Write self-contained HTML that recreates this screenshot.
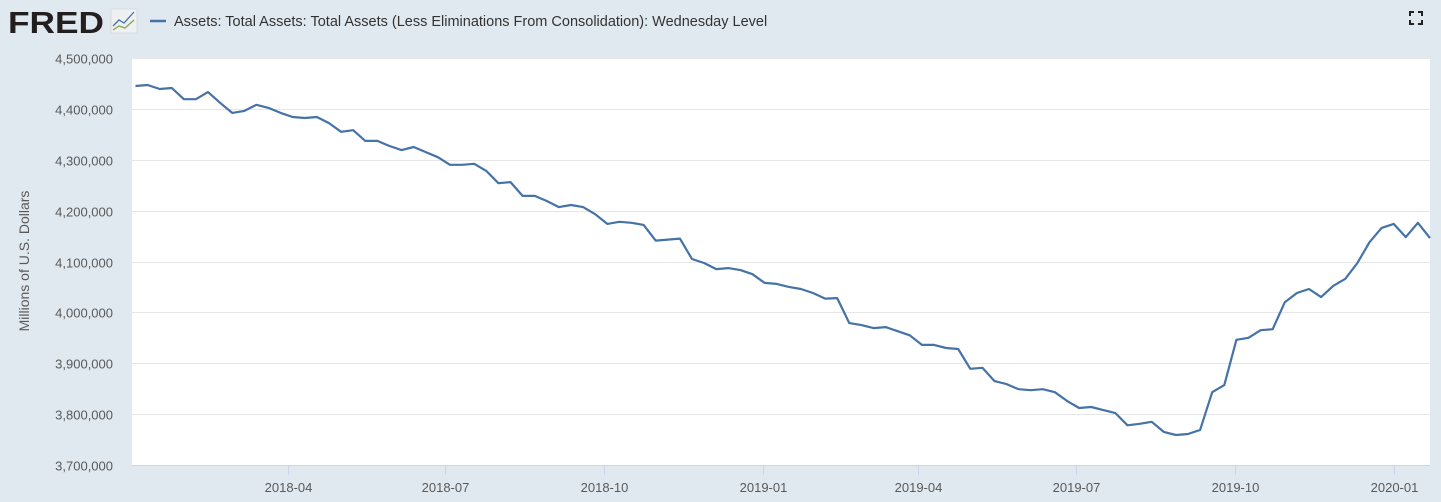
<!DOCTYPE html>
<html><head><meta charset="utf-8"><style>
body{margin:0;background:#e1e9f0;font-family:"Liberation Sans",sans-serif;}
#wrap{position:relative;width:1441px;height:502px;overflow:hidden;background:#e1e9f0}
</style></head><body>
<div id="wrap">
<svg id="c" width="1441" height="502" xmlns="http://www.w3.org/2000/svg">
<g>
<text x="8" y="33" font-size="31" font-weight="bold" fill="#231f20" font-family="Liberation Sans, sans-serif" textLength="96" lengthAdjust="spacingAndGlyphs">FRED</text>
<rect x="111" y="9" width="26" height="24" fill="#eef0f2" stroke="#d8dcdf"/>
<polyline points="113,26 119,20 124,23 134,12" fill="none" stroke="#4572a7" stroke-width="1.3"/>
<polyline points="113,30 119,26 125,28 134,20" fill="none" stroke="#89a54e" stroke-width="1.3"/>
</g>
<line x1="150" y1="21" x2="166" y2="21" stroke="#4572a7" stroke-width="2.5"/>
<text x="174" y="26" font-size="14.5" fill="#333">Assets: Total Assets: Total Assets (Less Eliminations From Consolidation): Wednesday Level</text>
<g stroke="#222" stroke-width="2" fill="none">
<polyline points="1410,16 1410,12 1414,12"/><polyline points="1418,12 1422,12 1422,16"/>
<polyline points="1410,20 1410,24 1414,24"/><polyline points="1418,24 1422,24 1422,20"/>
</g>
<rect x="132" y="58" width="1298" height="407" fill="#fff"/>
<g id="grid"></g><g id="ylab"></g><g id="xlab"></g>
<line x1="132" y1="465.5" x2="1430" y2="465.5" stroke="#ccd6eb" stroke-width="1"/>
<text transform="translate(29,261) rotate(-90)" text-anchor="middle" font-size="14" fill="#595959">Millions of U.S. Dollars</text>
<path id="line" fill="none" stroke="#4572a7" stroke-width="2.2" stroke-linejoin="round"/>
</svg>
</div>
<script>
const startDate = "2018-01-03";
const values = [4445,4447,4439,4441,4419,4419,4433,4412,4392,4396,
4408,4402,4392,4384,4382,4384,4372,4355,4358,4337,
4337,4327,4319,4325,4315,4305,4290,4290,4292,4278,
4254,4256,4229,4229,4219,4207,4211,4207,4193,4174,
4178,4176,4172,4141,4143,4145,4105,4097,4085,4087,
4083,4075,4058,4056,4050,4046,4038,4027,4028,3979,
3975,3969,3971,3963,3955,3936,3936,3930,3928,3889,
3891,3865,3859,3849,3847,3849,3843,3826,3812,3814,
3808,3802,3778,3781,3785,3765,3759,3761,3769,3843,
3857,3946,3950,3965,3967,4020,4038,4046,4030,4052,
4066,4097,4138,4166,4174,4148,4176,4146];
const yTicks = [3700,3800,3900,4000,4100,4200,4300,4400,4500];
const xTicks = ["2018-04","2018-07","2018-10","2019-01","2019-04","2019-07","2019-10","2020-01"];

const NS="http://www.w3.org/2000/svg";
const t0=Date.parse("2018-01-01"), t1=Date.parse("2020-01-22");
const X0=132,X1=1430,Y0=465,Y1=58,vMin=3700,vMax=4500;
const xs=t=>X0+(t-t0)/(t1-t0)*(X1-X0);
const ys=v=>Y0-(v-vMin)/(vMax-vMin)*(Y0-Y1);
const fmt=v=>(v*1000).toLocaleString("en-US");
const grid=document.getElementById("grid"),yl=document.getElementById("ylab"),xl=document.getElementById("xlab");
yTicks.forEach(v=>{
  const y=Math.round(ys(v))+0.5;
  if(v>vMin){const l=document.createElementNS(NS,"line");
  l.setAttribute("x1",X0);l.setAttribute("x2",X1);l.setAttribute("y1",y);l.setAttribute("y2",y);
  l.setAttribute("stroke","#e6e6e6");
  
  
  grid.appendChild(l);}
  const t=document.createElementNS(NS,"text");
  t.setAttribute("x",113);t.setAttribute("y",y+5);t.setAttribute("text-anchor","end");
  t.setAttribute("font-size","13");t.setAttribute("fill","#595959");t.textContent=fmt(v);
  
  
  yl.appendChild(t);
});
xTicks.forEach(s=>{
  const x=Math.round(xs(Date.parse(s+"-01")))+0.5;
  const l=document.createElementNS(NS,"line");
  l.setAttribute("x1",x);l.setAttribute("x2",x);l.setAttribute("y1",465);l.setAttribute("y2",475);
  l.setAttribute("stroke","#ccd6eb");
  
  
  xl.appendChild(l);
  const t=document.createElementNS(NS,"text");
  t.setAttribute("x",x);t.setAttribute("y",492);t.setAttribute("text-anchor","middle");
  t.setAttribute("font-size","13");t.setAttribute("fill","#595959");t.textContent=s;
  
  
  xl.appendChild(t);
});
const s0=Date.parse(startDate);
let d="";
values.forEach((v,i)=>{const x=xs(s0+i*7*864e5),y=ys(v);d+=(i?"L":"M")+x.toFixed(1)+","+y.toFixed(1);});
document.getElementById("line").setAttribute("d",d);
</script>
</body></html>
